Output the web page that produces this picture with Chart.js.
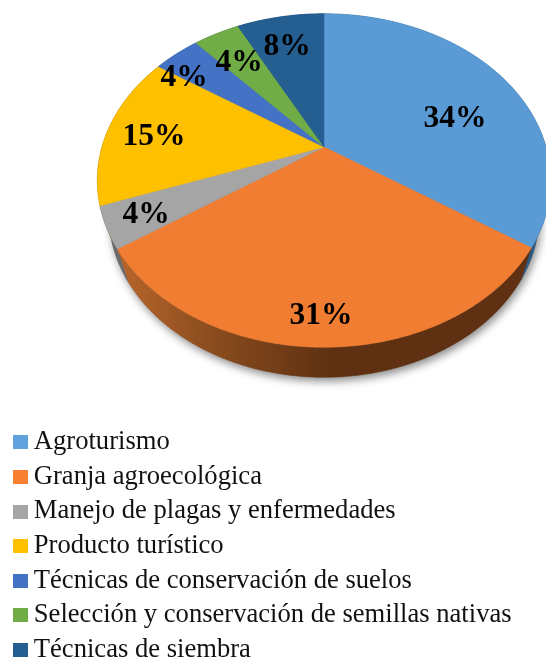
<!DOCTYPE html>
<html>
<head>
<meta charset="utf-8">
<style>html,body{margin:0;padding:0;background:#fff}canvas{display:block}</style>
<script src="https://cdn.jsdelivr.net/npm/chart.js@4/dist/chart.umd.min.js"></script>
</head>
<body>
<canvas id="c" width="546" height="657"></canvas>
<script>
const categories = ["Agroturismo","Granja agroecológica","Manejo de plagas y enfermedades","Producto turístico","Técnicas de conservación de suelos","Selección y conservación de semillas nativas","Técnicas de siembra"];
const values = [34,31,4,15,4,4,8];
const sliceColors = ["#5B9BD5","#F07D31","#A5A5A5","#FFC000","#4472C4","#70AD47","#255E91"];
const wallColors = ["#2c5a85","#5f3112","#6b6b6b","#8a6900","#2a4780","#3f6828","#153a5c"];
const legendColors = ["#5FA2DD","#F98032","#A5A5A5","#FFC000","#4472C4","#70AD47","#255E91"];
const labelSpots = [[455,116],[321,313],[146,212],[154,134],[184,75],[239,60],[287,44]];

// Perspective view of the flat disc
const view = {cx:324, cy:147, rx:222, ry:160, k:0.2012, sx:0.95, sy:0.98, drop:34, twist:0.028};
function rim(a0){ // a0: library angle, -PI/2 is the top of the pie
  const s=(a0+Math.PI/2)/(2*Math.PI);
  const a=a0+view.twist*Math.max(0,Math.min(1,s/0.1,(1-s)/0.07));
  const u=Math.cos(a), v=Math.sin(a), d=1-view.k*v;
  return [view.cx+view.rx*u/d, view.cy+view.ry*v/d];
}
function lowerRim(a){
  const p=rim(a);
  return [view.cx+(p[0]-view.cx)*view.sx, view.cy+(p[1]-view.cy)*view.sy+view.drop];
}
function trace(ctx,fn,a0,a1,first){
  const n=Math.max(2,Math.ceil(Math.abs(a1-a0)/0.01));
  for(let i=0;i<=n;i++){
    const p=fn(a0+(a1-a0)*i/n);
    if(i===0&&first) ctx.moveTo(p[0],p[1]); else ctx.lineTo(p[0],p[1]);
  }
}
const perspectivePie = {
  id:'perspectivePie',
  afterLayout(chart){
    const l=chart.legend, x=12.5, y=421;
    l.left=x; l.top=y; l.right=546; l.bottom=760; l.width=546-x; l.height=760-y;
  },
  beforeDatasetDraw(chart,args){
    const ctx=chart.ctx, arcs=args.meta.data;
    ctx.save();
    // soft shadow below the solid
    ctx.save();
    ctx.shadowColor='rgba(0,0,0,0.45)'; ctx.shadowBlur=9; ctx.shadowOffsetX=2; ctx.shadowOffsetY=4;
    ctx.fillStyle='#777';
    ctx.beginPath(); trace(ctx,lowerRim,-Math.PI/2,Math.PI*1.5,true); ctx.closePath(); ctx.fill();
    ctx.restore();
    // side walls
    arcs.forEach((arc,i)=>{
      let fill=wallColors[i];
      if(i===1){
        const g=ctx.createLinearGradient(118,0,330,0);
        g.addColorStop(0,'#b8652b'); g.addColorStop(0.45,'#8a4c1e'); g.addColorStop(1,'#5f3112');
        fill=g;
      }
      ctx.fillStyle=fill; ctx.strokeStyle=fill; ctx.lineWidth=0.5;
      ctx.beginPath();
      trace(ctx,rim,arc.startAngle,arc.endAngle,true);
      trace(ctx,lowerRim,arc.endAngle,arc.startAngle,false);
      ctx.closePath(); ctx.fill(); ctx.stroke();
    });
    // top faces
    arcs.forEach((arc,i)=>{
      ctx.fillStyle=sliceColors[i]; ctx.strokeStyle=sliceColors[i]; ctx.lineWidth=0.5;
      ctx.beginPath();
      ctx.moveTo(view.cx,view.cy);
      trace(ctx,rim,arc.startAngle,arc.endAngle,false);
      ctx.closePath(); ctx.fill(); ctx.stroke();
    });
    // value labels
    ctx.fillStyle='#000';
    ctx.font='bold 31.5px "Liberation Serif"';
    ctx.textAlign='center'; ctx.textBaseline='middle';
    values.forEach((val,i)=>ctx.fillText(val+'%',labelSpots[i][0],labelSpots[i][1]+3));
    ctx.restore();
    return false;
  }
};
function swatch(color){
  const s=document.createElement('canvas'); s.width=15; s.height=14;
  const g=s.getContext('2d'); g.fillStyle=color; g.fillRect(0,0,15,14);
  return s;
}
new Chart(document.getElementById('c'),{
  type:'pie',
  data:{labels:categories,datasets:[{data:values,backgroundColor:sliceColors,borderWidth:0}]},
  options:{
    responsive:false,animation:false,
    events:[],
    plugins:{
      tooltip:{enabled:false},
      legend:{
        position:'left',align:'start',
        labels:{
          font:{family:'"Liberation Serif"',size:26.6},color:'#111',
          usePointStyle:true,pointStyleWidth:0.01,padding:8,
          generateLabels(){
            return categories.map((t,i)=>({text:t,pointStyle:swatch(legendColors[i]),fontColor:'#111',index:i,hidden:false,lineWidth:0}));
          }
        }
      }
    }
  },
  plugins:[perspectivePie]
});
</script>
</body>
</html>
